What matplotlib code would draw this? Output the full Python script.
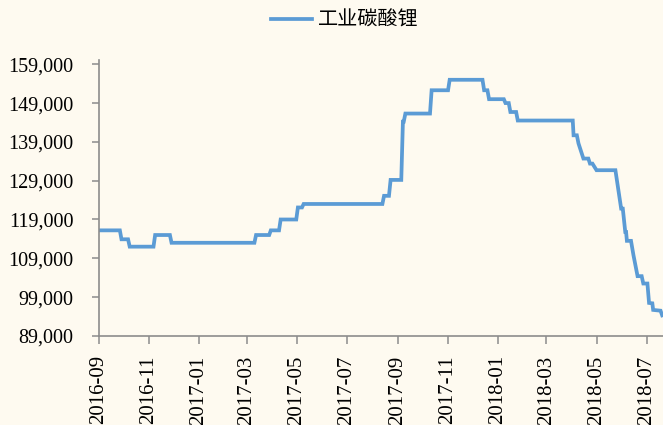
import matplotlib
matplotlib.use("Agg")
import matplotlib.pyplot as plt
import matplotlib.dates as mdates
import pandas as pd

# price points (yuan/ton)
dates = [
    "2016-09-01", "2016-09-27", "2016-09-29", "2016-10-07", "2016-10-09",
    "2016-11-07", "2016-11-09", "2016-11-27", "2016-11-29", "2017-03-10",
    "2017-03-12", "2017-03-28", "2017-03-30", "2017-04-09", "2017-04-11",
    "2017-04-30", "2017-05-02", "2017-05-07", "2017-05-09", "2017-08-13",
    "2017-08-15", "2017-08-21", "2017-08-23", "2017-09-05", "2017-09-07",
    "2017-09-08", "2017-09-10", "2017-10-10", "2017-10-12", "2017-11-01",
    "2017-11-03", "2017-12-13", "2017-12-15", "2017-12-19", "2017-12-21",
    "2018-01-08", "2018-01-10", "2018-01-14", "2018-01-16", "2018-01-23",
    "2018-01-25", "2018-04-02", "2018-04-03", "2018-04-07", "2018-04-09",
    "2018-04-15", "2018-04-21", "2018-04-23", "2018-04-26", "2018-05-01",
    "2018-05-24", "2018-05-31", "2018-06-02", "2018-06-05", "2018-06-06",
    "2018-06-07", "2018-06-12", "2018-06-15", "2018-06-20", "2018-06-25",
    "2018-06-27", "2018-07-02", "2018-07-04", "2018-07-08", "2018-07-09",
    "2018-07-18", "2018-07-20",
]
prices = [
    116200, 116200, 113900, 113900, 112000,
    112000, 115000, 115000, 113000, 113000,
    115000, 115000, 116200, 116200, 119000,
    119000, 122100, 122100, 123000, 123000,
    125100, 125100, 129200, 129200, 144200,
    144200, 146300, 146300, 152300, 152300,
    155000, 155000, 152300, 152300, 150000,
    150000, 149000, 149000, 146700, 146700,
    144500, 144500, 140700, 140700, 138600,
    134700, 134700, 133400, 133400, 131700,
    131700, 121800, 121800, 115800, 115800,
    113500, 113500, 109800, 104400, 104400,
    102500, 102500, 97500, 97400, 95700,
    95500, 94300,
]
y_ticks = [89000, 99000, 109000, 119000, 129000, 139000, 149000, 159000]
series_name = "工业碳酸锂"

bg = "#FEFAF0"
line_color = "#5B9BD5"
axis_color = "#8C8C8C"

plt.rcParams['font.family'] = ['Liberation Serif', 'Noto Sans CJK SC']

fig = plt.figure(figsize=(6.63, 4.25), dpi=100, facecolor=bg)
ax = fig.add_axes([0.1486, 0.2096, 0.8514, 0.6392])
ax.set_facecolor(bg)

x = pd.to_datetime(dates)
ax.plot(x, prices, color=line_color, linewidth=2.7, label=series_name,
        solid_joinstyle='miter')

ax.set_ylim(89000, 159000)
ax.set_yticks(y_ticks)
ax.set_yticklabels([f"{v:,}" for v in y_ticks])
ax.set_xlim(pd.Timestamp("2016-09-01"), pd.Timestamp("2018-07-21"))
ax.xaxis.set_major_locator(mdates.MonthLocator(bymonth=[1, 3, 5, 7, 9, 11]))
ax.xaxis.set_major_formatter(mdates.DateFormatter("%Y-%m"))

for s in ['top', 'right']:
    ax.spines[s].set_visible(False)
for s in ['left', 'bottom']:
    ax.spines[s].set_color(axis_color)
    ax.spines[s].set_linewidth(1.2)
ax.spines['left'].set_bounds(89000, 160000)

ax.tick_params(axis='y', length=5, width=1.1, color=axis_color,
               labelsize=14.5, labelcolor='black', pad=13)
ax.tick_params(axis='x', length=6, width=1.1, color=axis_color,
               labelsize=15, labelcolor='black', pad=8, rotation=90)

fig.legend(loc='upper center', bbox_to_anchor=(0.52, 1.02), frameon=False,
           prop={'family': ['Noto Sans CJK SC'], 'size': 14.5},
           handlelength=2.0, handletextpad=0.3)

fig.savefig("out.png", dpi=100, facecolor=bg)
